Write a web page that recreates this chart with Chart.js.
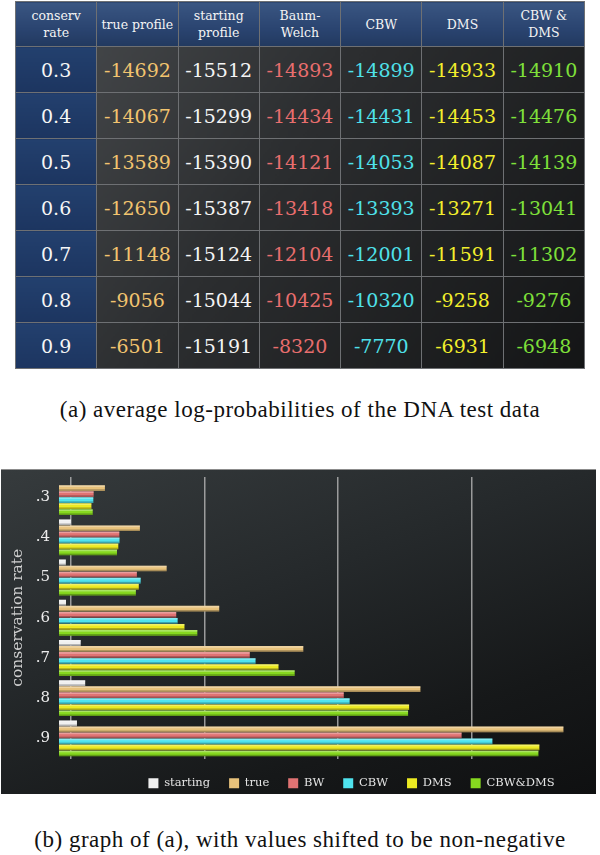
<!DOCTYPE html>
<html>
<head>
<meta charset="utf-8">
<script src="https://cdn.jsdelivr.net/npm/chart.js@4/dist/chart.umd.min.js"></script>
<style>
  html, body { margin: 0; padding: 0; background: #ffffff; }
  body { width: 600px; height: 855px; position: relative; overflow: hidden; }
  #tbl {
    position: absolute; left: 15px; top: 1px; width: 570px; height: 360px;
    border-collapse: collapse; table-layout: fixed;
    background: linear-gradient(125deg, #4b4e51 0%, #2c2e30 45%, #141516 100%);
    border: 1.5px solid #8a8c8e;
  }
  #tbl td, #tbl th {
    border: 1.5px solid #6e7073; text-align: center; vertical-align: middle;
    padding: 0; font-family: "DejaVu Serif", serif;
  }
  #tbl th {
    height: 44px; color: #f4f4f4; font-weight: normal; font-size: 12.5px;
    line-height: 17px;
    background: linear-gradient(180deg, #3a5682 0%, #2a4470 60%, #22395f 100%);
  }
  #tbl td { height: 45px; font-size: 19px; }
  #tbl td.rate {
    color: #f6f6f6;
    background: linear-gradient(180deg, #23406e 0%, #1c3560 100%);
  }
  .cap {
    position: absolute; left: 0; width: 600px; text-align: center;
    font-family: "Liberation Serif", serif; font-size: 23px; letter-spacing: 0.5px;
    line-height: 26px; color: #111;
  }
  #panel {
    position: absolute; left: 1px; top: 469px; width: 595px; height: 325px;
    background: linear-gradient(160deg, #363b3d 0%, #25292b 40%, #161819 75%, #0f1011 100%);
    border-top: 1px solid #8c8c8c; box-sizing: border-box; overflow: hidden;
  }
  #panel canvas { position: absolute; left: 0; top: 0; }
</style>
</head>
<body>
<table id="tbl"></table>
<div class="cap" style="top:397px;">(a) average log-probabilities of the DNA test data</div>
<div id="panel"><canvas id="c" width="595" height="333"></canvas></div>
<div class="cap" style="top:827px;">(b) graph of (a), with values shifted to be non-negative</div>
<script>
// ---- data ----
const rates = ['0.3', '0.4', '0.5', '0.6', '0.7', '0.8', '0.9'];
const rateTicks = ['.3', '.4', '.5', '.6', '.7', '.8', '.9'];
const trueProfile = [-14692, -14067, -13589, -12650, -11148, -9056, -6501];
const startingProfile = [-15512, -15299, -15390, -15387, -15124, -15044, -15191];
const baumWelch = [-14893, -14434, -14121, -13418, -12104, -10425, -8320];
const cbw = [-14899, -14431, -14053, -13393, -12001, -10320, -7770];
const dms = [-14933, -14453, -14087, -13271, -11591, -9258, -6931];
const cbwDms = [-14910, -14476, -14139, -13041, -11302, -9276, -6948];
const tableHeaders = ['conserv<br>rate', 'true profile', 'starting<br>profile', 'Baum-<br>Welch', 'CBW', 'DMS', 'CBW &amp;<br>DMS'];
const legendNames = ['starting', 'true', 'BW', 'CBW', 'DMS', 'CBW&DMS'];
const gridValues = [215, 2600, 4985, 7370];
const xMax = 9450;

// ---- styles ----
const textColors = ['#f2c46f', '#f4f4f4', '#e86e6e', '#4fe1ea', '#f3ef2c', '#7fe03a'];
const barColors = ['#f0f0f0', '#e8c27b', '#e07373', '#4fe3ee', '#ecea22', '#86d81f'];

// ---- table ----
const tableCols = [trueProfile, startingProfile, baumWelch, cbw, dms, cbwDms];
let html = '<tr>' + tableHeaders.map(h => '<th>' + h + '</th>').join('') + '</tr>';
rates.forEach((r, i) => {
  html += '<tr><td class="rate">' + r + '</td>' +
    tableCols.map((col, j) => '<td style="color:' + textColors[j] + '">' + col[i] + '</td>').join('') + '</tr>';
});
document.getElementById('tbl').innerHTML = html;

// ---- chart: values shifted to be non-negative ----
const allVals = [].concat(trueProfile, startingProfile, baumWelch, cbw, dms, cbwDms);
const shift = -Math.min(...allVals);
const seriesOrder = [startingProfile, trueProfile, baumWelch, cbw, dms, cbwDms];

const barShade = {
  id: 'barShade',
  afterDatasetsDraw(chart) {
    const ctx = chart.ctx;
    chart.data.datasets.forEach((ds, di) => {
      const meta = chart.getDatasetMeta(di);
      meta.data.forEach(el => {
        const p = el.getProps(['x', 'y', 'base', 'height'], true);
        const l = Math.min(p.base, p.x), w = Math.abs(p.x - p.base);
        if (w < 0.5) return;
        const t = p.y - p.height / 2;
        ctx.save();
        ctx.fillStyle = 'rgba(255,255,255,0.30)';
        ctx.fillRect(l, t, w, p.height * 0.3);
        ctx.fillStyle = 'rgba(0,0,0,0.28)';
        ctx.fillRect(l, t + p.height * 0.72, w, p.height * 0.28);
        ctx.restore();
      });
    });
  }
};
const legendShift = {
  id: 'legendShift',
  afterLayout(chart) {
    const lg = chart.legend;
    if (lg) { lg.left += 57; lg.right += 57; }
  }
};

new Chart(document.getElementById('c'), {
  type: 'bar',
  data: {
    labels: rateTicks,
    datasets: seriesOrder.map((s, i) => ({
      label: legendNames[i],
      data: s.map(v => v + shift),
      backgroundColor: barColors[i],
      borderWidth: 0,
      categoryPercentage: 0.9,
      barPercentage: 0.94
    }))
  },
  options: {
    indexAxis: 'y',
    responsive: false,
    animation: false,
    layout: { padding: { left: 0, right: 8, top: 7, bottom: 4 } },
    plugins: {
      tooltip: { enabled: false },
      legend: {
        position: 'bottom',
        labels: {
          boxWidth: 10, boxHeight: 10, padding: 19,
          color: '#e4e4e4',
          font: { family: 'DejaVu Serif', size: 11.5 }
        }
      }
    },
    scales: {
      x: {
        min: 0, max: xMax,
        afterBuildTicks(scale) { scale.ticks = gridValues.map(v => ({ value: v })); },
        ticks: { display: false },
        grid: { color: 'rgba(175,175,175,0.85)', lineWidth: 1.5, drawTicks: false },
        border: { display: false }
      },
      y: {
        afterFit(scale) { scale.width = 58; scale.paddingTop = 0; scale.paddingBottom = 0; },
        ticks: { color: '#ececec', padding: 9, font: { family: 'DejaVu Serif', size: 15 } },
        grid: { display: false, drawTicks: false },
        border: { display: false },
        title: {
          display: true, text: 'conservation rate', color: '#d0d0d0',
          padding: { top: 8, bottom: 0 },
          font: { family: 'DejaVu Serif', size: 15.5 }
        }
      }
    }
  },
  plugins: [barShade, legendShift]
});
</script>
</body>
</html>
